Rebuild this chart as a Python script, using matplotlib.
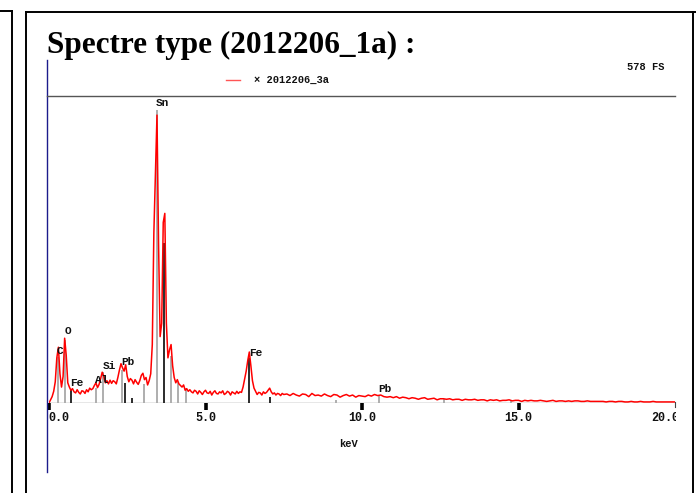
import numpy as np
import matplotlib
matplotlib.use("Agg")
import matplotlib.pyplot as plt
from matplotlib.lines import Line2D
from matplotlib.patches import Rectangle

# ---------------- data ----------------
title = "Spectre type (2012206_1a) :"
series_name = "2012206_3a"
full_scale = 578
fs_label = "578 FS"
x_label = "keV"
x_ticks = [0.0, 5.0, 10.0, 15.0]
x_tick_labels = ["0.0", "5.0", "10.0", "15.0"]
x_end = 20.0
x_end_label = "20.0"

# channel step 0.05 keV from 0.00 to 7.50 keV
step_lo = 0.05
counts_lo = [
    0, 6, 12, 22, 40, 85, 105, 55, 30, 50,
    122, 90, 38, 30, 24, 27, 21, 19, 25, 20,
    17, 23, 22, 18, 25, 21, 28, 25, 27, 33,
    38, 29, 35, 46, 58, 50, 38, 42, 36, 43,
    37, 42, 40, 36, 48, 62, 74, 66, 60, 72,
    50, 40, 46, 43, 36, 44, 39, 35, 42, 52,
    56, 44, 48, 34, 42, 55, 110, 320, 430, 542,
    300, 125, 150, 340, 357, 150, 85, 100, 110, 70,
    48, 38, 44, 36, 33, 30, 34, 24, 27, 22,
    25, 21, 19, 24, 22, 17, 23, 20, 16, 21,
    24, 19, 18, 22, 15, 20, 23, 18, 17, 21,
    19, 23, 16, 18, 22, 20, 15, 21, 19, 17,
    22, 18, 21, 20, 30, 45, 60, 80, 96, 70,
    42, 28, 22, 16, 20, 19, 15, 21, 18, 20,
    24, 28, 21, 17, 19, 15, 18, 17, 14, 18,
    16,
]
# channel step 0.1 keV from 7.6 to 20.0 keV
start_hi = 7.6
step_hi = 0.1
counts_hi = [
    17, 14, 18, 15, 13, 17, 16, 12, 18, 14,
    15, 13, 17, 14, 12, 16, 15, 11, 14, 16,
    13, 15, 11, 14, 13, 12, 15, 13, 16, 14,
    15, 12, 11, 12, 10, 12, 9, 11, 10, 8,
    10, 9, 7, 9, 10, 7, 8, 9, 6, 8,
    8, 7, 8, 6, 7, 7, 5, 7, 6, 6,
    7, 5, 6, 6, 4, 6, 5, 6, 4, 5,
    5, 6, 4, 5, 5, 3, 5, 4, 5, 4,
    4, 5, 4, 3, 4, 5, 3, 4, 4, 3,
    4, 3, 4, 4, 3, 3, 4, 3, 3, 3,
    3, 3, 2, 3, 3, 2, 3, 3, 2, 2,
    3, 2, 2, 3, 2, 2, 2, 3, 2, 2,
    2, 2, 2, 2, 2,
]

# element line markers (energy keV, height counts, dark?)
marker_energy = [0.277, 0.525, 0.705, 1.487, 1.740, 2.345, 2.443, 2.653, 3.045,
                 3.444, 3.662, 3.905, 4.131, 4.376, 6.400, 7.058, 9.184, 10.551,
                 12.614, 14.764]
marker_height = [87, 118, 25, 28, 58, 62, 38, 9, 36,
                 551, 302, 88, 40, 28, 85, 12, 6, 15,
                 8, 6]
marker_dark = [False, False, True, False, False, False, True, True, False,
               False, True, False, False, False, True, True, False, False,
               False, False]

# element labels (name, index into markers)
label_names = ["C", "O", "Fe", "Al", "Si", "Pb", "Sn", "Fe", "Pb"]
label_marker = [0, 1, 2, 3, 4, 5, 9, 14, 17]
label_dy = [0.5, 3.0, 1.0, 2.5, 1.0, 2.5, 1.5, 0.0, 0.5]   # points

# ---------------- figure ----------------
W, H = 696, 493
fig = plt.figure(figsize=(W / 100, H / 100), dpi=100)
fig.patch.set_facecolor("white")


def fx(x):
    return x / W


def fy(y):
    return 1 - y / H


def fline(x0, y0, x1, y1, color="black", lw=1.0, **kw):
    fig.add_artist(Line2D([fx(x0), fx(x1)], [fy(y0), fy(y1)],
                          transform=fig.transFigure, color=color, lw=lw, **kw))


# page frames
fline(0, 11, 12, 11, lw=1.4)
fline(12, 11, 12, H, lw=1.4)
fline(26, 12, W, 12, lw=1.4)
fline(26, 12, 26, H, lw=1.4)
fline(693, 12, 693, H, lw=1.4)

# title
fig.text(fx(47), fy(53), title, fontfamily="Liberation Serif", fontweight="bold",
         fontsize=22.5, ha="left", va="baseline", color="black")

# chart frame lines
fline(47, 60, 47, 472, color="#1c1c8c", lw=1.0)
fline(47, 96, 675, 96, color="#555555", lw=1.0)

mono = dict(fontfamily="Liberation Mono", fontweight="bold", color="#111111")
fig.text(fx(627), fy(67), fs_label, fontsize=7.5, ha="left", va="center", **mono)
fline(226, 80, 240, 80, color="#ff5555", lw=1.0)
fig.text(fx(254), fy(80), "\u00d7 " + series_name, fontsize=7.5, ha="left",
         va="center", **mono)

ax = fig.add_axes([fx(49), fy(403), fx(675) - fx(49), fy(96) - fy(403)])
ax.set_xlim(0, x_end)
ax.set_ylim(0, full_scale)
for s in ax.spines.values():
    s.set_visible(False)
ax.patch.set_alpha(0)
ax.set_yticks([])
ax.set_xticks(x_ticks)
ax.tick_params(axis="x", direction="out", length=5, width=2.6, color="black",
               labelbottom=False)

# baseline
ax.axhline(0, color="#888888", lw=1.0, zorder=1)
ax.plot([x_end, x_end], [-8, 1], color="#444444", lw=0.8, clip_on=False)

# markers
m_e = np.array(marker_energy)
m_h = np.array(marker_height)
m_c = ["#1a1a1a" if d else "#a8a8a8" for d in marker_dark]
ax.vlines(m_e, 0, m_h, colors=m_c, lw=1.3, zorder=2)

# spectrum
e_lo = np.arange(len(counts_lo)) * step_lo
e_hi = start_hi + np.arange(len(counts_hi)) * step_hi
energy = np.concatenate([e_lo, e_hi])
counts = np.concatenate([counts_lo, counts_hi])
ax.plot(energy, counts, color="#ff0000", lw=1.1, zorder=3)

# element labels
for name, mi, dy in zip(label_names, label_marker, label_dy):
    ax.annotate(name, (marker_energy[mi], marker_height[mi]), xytext=(-0.5, dy),
                textcoords="offset points", ha="left", va="bottom",
                fontsize=8, zorder=4, **mono)

# tick labels
trans = ax.get_xaxis_transform()
for t, lab in zip(x_ticks, x_tick_labels):
    ha = "left" if t == 0 else "center"
    ax.text(t - (0.03 if t == 0 else 0), -0.048, lab, transform=trans, ha=ha,
            va="center", fontsize=8.5, clip_on=False, **mono)
end_txt = ax.text(x_end + 0.15, -0.048, x_end_label, transform=trans, ha="right",
                  va="center", fontsize=8.5, **mono)
clip = Rectangle((0, 0), fx(676), 1, transform=fig.transFigure)
end_txt.set_clip_path(clip)
end_txt.set_clip_on(True)

fig.text(fx(349), fy(444), x_label, fontsize=7.5, ha="center", va="center", **mono)

fig.savefig("out.png", dpi=100, facecolor="white")
